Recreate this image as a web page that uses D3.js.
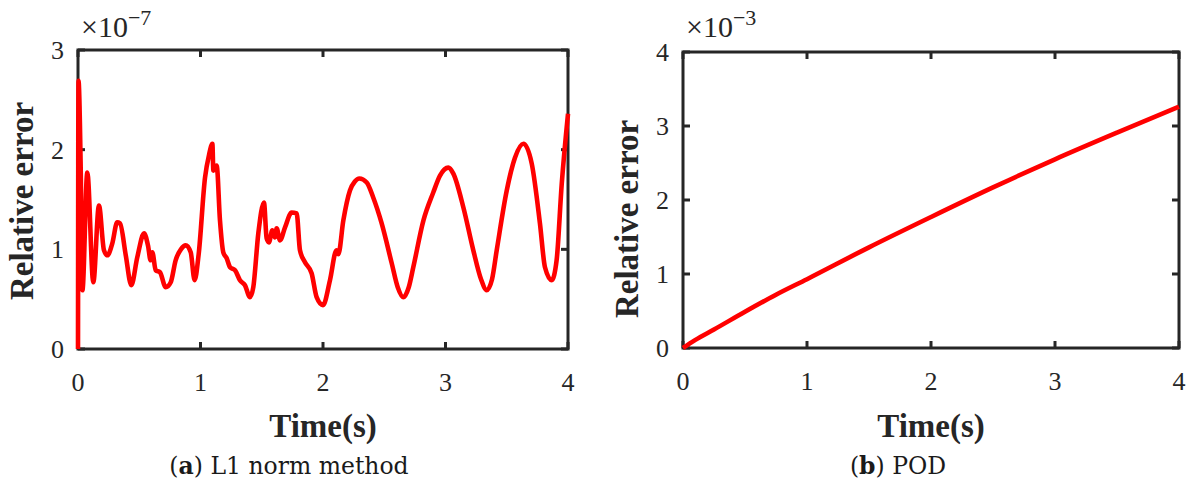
<!DOCTYPE html>
<html>
<head>
<meta charset="utf-8">
<script src="https://cdn.jsdelivr.net/npm/d3@7"></script>
</head>
<body style="margin:0;background:#fff">
<svg id="chart" width="1195" height="490" style="display:block"></svg>
<script>
// ---- Data: panel (a) L1 norm method, relative error (x1e-7) ----
const timeA = [0, 0.004, 0.022, 0.036, 0.076, 0.125, 0.171, 0.212, 0.24, 0.28, 0.32, 0.343,
  0.39, 0.435, 0.484, 0.539, 0.571, 0.593, 0.607, 0.634, 0.669, 0.716, 0.757, 0.797,
  0.84, 0.879, 0.92, 0.952, 0.985, 1.037, 1.07, 1.097, 1.105, 1.132, 1.159, 1.186, 1.214,
  1.241, 1.282, 1.322, 1.363, 1.404, 1.431, 1.472, 1.518, 1.54, 1.559, 1.586, 1.608,
  1.622, 1.649, 1.69, 1.744, 1.785, 1.812, 1.853, 1.907, 1.948, 2.0, 2.057, 2.11, 2.125,
  2.166, 2.22, 2.26, 2.297, 2.357, 2.41, 2.479, 2.561, 2.61, 2.656, 2.7, 2.737, 2.82, 2.9,
  2.955, 3.023, 3.064, 3.146, 3.227, 3.29, 3.336, 3.38, 3.418, 3.5, 3.567, 3.636, 3.704,
  3.771, 3.812, 3.867, 3.907, 3.949, 4.0];
const errorA = [0, 2.69, 1.82, 0.59, 1.77, 0.67, 1.44, 0.99, 0.94, 1.06, 1.27, 1.26,
  0.94, 0.64, 0.92, 1.16, 1.04, 0.89, 0.97, 0.79, 0.77, 0.62, 0.67, 0.89,
  1.0, 1.04, 0.97, 0.69, 0.95, 1.72, 1.95, 2.06, 1.79, 1.84, 1.29, 0.97, 0.91,
  0.82, 0.79, 0.69, 0.64, 0.52, 0.62, 1.16, 1.47, 1.11, 1.07, 1.19, 1.12,
  1.21, 1.09, 1.22, 1.37, 1.36, 0.99, 0.87, 0.76, 0.52, 0.44, 0.69, 0.99, 0.95,
  1.29, 1.59, 1.68, 1.71, 1.67, 1.52, 1.26, 0.86, 0.62, 0.52, 0.62, 0.82, 1.29, 1.57,
  1.74, 1.82, 1.76, 1.42, 0.99, 0.7, 0.59, 0.7, 0.99, 1.59, 1.92, 2.06, 1.86,
  1.26, 0.82, 0.69, 0.89, 1.66, 2.36];

// ---- Data: panel (b) POD, relative error (x1e-3) ----
const timeB = [0, 0.1, 0.25, 0.5, 0.75, 1, 1.5, 2, 2.5, 3, 3.5, 4];
const errorB = [0, 0.11, 0.25, 0.49, 0.72, 0.93, 1.36, 1.77, 2.17, 2.55, 2.91, 3.26];

const xTicks = [0, 1, 2, 3, 4];
const yTicksA = [0, 1, 2, 3];
const yTicksB = [0, 1, 2, 3, 4];
const expA = "\u22127";
const expB = "\u22123";
const captionA = { letter: "a", text: " L1 norm method" };
const captionB = { letter: "b", text: " POD" };

const svg = d3.select("#chart");
const AX = "#262626";
const SERIF = "Liberation Serif";
const TL = 7;

function panel(cfg) {
  const { left, right, top, bottom, times, values, yTicks, exp, caption, ylabelY, capX } = cfg;
  const x = d3.scaleLinear().domain([0, 4]).range([left, right]);
  const y = d3.scaleLinear().domain([0, yTicks[yTicks.length - 1]]).range([bottom, top]);

  // tick labels
  svg.append("g").selectAll("text").data(xTicks).join("text")
    .attr("x", d => x(d)).attr("y", y(0) + 42)
    .attr("text-anchor", "middle")
    .attr("font-family", SERIF).attr("font-size", 26).attr("fill", AX)
    .text(d => d);
  svg.append("g").selectAll("text").data(yTicks).join("text")
    .attr("x", x(0) - 14).attr("y", d => y(d) + 9)
    .attr("text-anchor", "end")
    .attr("font-family", SERIF).attr("font-size", 26).attr("fill", AX)
    .text(d => d);

  // exponent label
  const ex = svg.append("text").attr("x", left + 3).attr("y", 37)
    .attr("font-family", SERIF).attr("font-size", 30).attr("fill", AX);
  ex.append("tspan").text("\u00d710");
  ex.append("tspan").attr("dy", -12).attr("font-size", 22).text(exp);

  // y label
  svg.append("text")
    .attr("transform", `translate(${left - 45},${ylabelY}) rotate(-90)`)
    .attr("text-anchor", "middle")
    .attr("font-family", SERIF).attr("font-size", 33).attr("font-weight", "bold").attr("fill", AX)
    .text("Relative error");

  // x label
  svg.append("text")
    .attr("x", (left + right) / 2).attr("y", 437)
    .attr("text-anchor", "middle")
    .attr("font-family", SERIF).attr("font-size", 33).attr("font-weight", "bold").attr("fill", AX)
    .text("Time(s)");

  // caption
  const c = svg.append("text").attr("x", capX).attr("y", 474)
    .attr("text-anchor", "middle")
    .attr("font-family", "DejaVu Serif").attr("font-size", 23.5).attr("fill", "#1a1a1a");
  c.append("tspan").text("(");
  c.append("tspan").attr("font-weight", "bold").text(caption.letter);
  c.append("tspan").text(")" + caption.text);

  // frame
  svg.append("rect")
    .attr("x", x(0)).attr("y", y.range()[1])
    .attr("width", x(4) - x(0)).attr("height", y(0) - y.range()[1])
    .attr("fill", "none").attr("stroke", AX).attr("stroke-width", 3);

  // inward ticks on all four sides
  const tk = svg.append("g").attr("stroke", AX).attr("stroke-width", 3);
  tk.selectAll(".xb").data(xTicks).join("line").attr("class", "xb")
    .attr("x1", d => x(d)).attr("x2", d => x(d)).attr("y1", y(0)).attr("y2", y(0) - TL);
  tk.selectAll(".xt").data(xTicks).join("line").attr("class", "xt")
    .attr("x1", d => x(d)).attr("x2", d => x(d)).attr("y1", top).attr("y2", top + TL);
  tk.selectAll(".yl").data(yTicks).join("line").attr("class", "yl")
    .attr("y1", d => y(d)).attr("y2", d => y(d)).attr("x1", x(0)).attr("x2", x(0) + TL);
  tk.selectAll(".yr").data(yTicks).join("line").attr("class", "yr")
    .attr("y1", d => y(d)).attr("y2", d => y(d)).attr("x1", x(4)).attr("x2", x(4) - TL);

  // data line (on top of the frame, as in the reference)
  const data = times.map((t, i) => [t, values[i]]);
  svg.append("path")
    .datum(data)
    .attr("fill", "none")
    .attr("stroke", "#ff0000")
    .attr("stroke-width", 4.6)
    .attr("stroke-linejoin", "round")
    .attr("d", d3.line().x(d => x(d[0])).y(d => y(d[1])).curve(d3.curveMonotoneX));
}

panel({ left: 78, right: 568, top: 50, bottom: 349, times: timeA, values: errorA,
  yTicks: yTicksA, exp: expA, caption: captionA, ylabelY: 201, capX: 289 });
panel({ left: 683, right: 1179, top: 52, bottom: 348, times: timeB, values: errorB,
  yTicks: yTicksB, exp: expB, caption: captionB, ylabelY: 219, capX: 898 });
</script>
</body>
</html>
